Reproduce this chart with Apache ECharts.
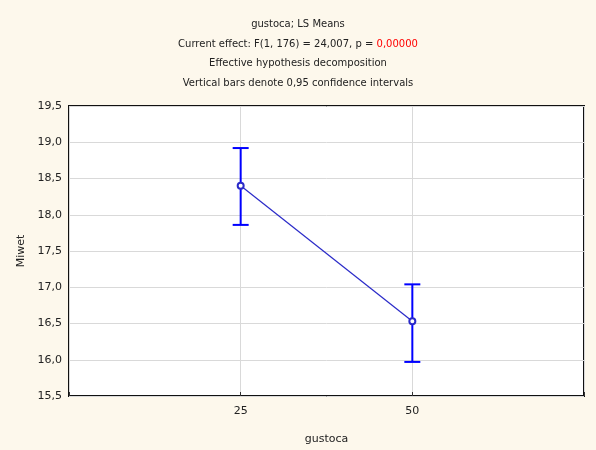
<!DOCTYPE html>
<html>
<head>
<meta charset="utf-8">
<script src="https://cdn.jsdelivr.net/npm/echarts@6/dist/echarts.min.js"></script>
<style>
html,body{margin:0;padding:0;background:#fdf8ec;}
#c{width:596px;height:450px;}
</style>
</head>
<body>
<div id="c"></div>
<script>
var categories = ['25', '50'];
var means = [18.40, 16.53];
var lower = [17.86, 15.97];
var upper = [18.92, 17.04];
var yTicks = [15.5, 16.0, 16.5, 17.0, 17.5, 18.0, 18.5, 19.0, 19.5];
var titleLines = [
  'gustoca; LS Means',
  'Current effect: F(1, 176) = 24,007, p = ',
  '0,00000',
  'Effective hypothesis decomposition',
  'Vertical bars denote 0,95 confidence intervals'
];
var xName = 'gustoca';
var yName = 'Miwet';

var FONT = 'DejaVu Sans, Verdana, sans-serif';
var chart = echarts.init(document.getElementById('c'), null, {renderer: 'canvas'});

var meanData = means.map(function (m, i) { return [i + 1, m]; });
var errData = means.map(function (m, i) { return [i + 1, lower[i], upper[i]]; });

function fmtComma(v) { return v.toFixed(1).replace('.', ','); }

var option = {
  backgroundColor: '#fdf8ec',
  animation: false,
  title: {
    left: 'center',
    top: 15,
    padding: 0,
    text: '{a|' + titleLines[0] + '}\n{a|' + titleLines[1] + '}{r|' + titleLines[2] + '}\n{a|' + titleLines[3] + '}\n{a|' + titleLines[4] + '}',
    textStyle: {
      fontFamily: FONT, fontSize: 10, fontWeight: 'normal', color: '#222', lineHeight: 19.5,
      rich: {
        a: {fontFamily: FONT, fontSize: 10, color: '#222', lineHeight: 19.5},
        r: {fontFamily: FONT, fontSize: 10, color: '#ff0000', lineHeight: 19.5}
      }
    }
  },
  grid: {
    left: 69, right: 12, top: 106, bottom: 46,
    show: true, backgroundColor: '#ffffff',
    borderColor: '#111111', borderWidth: 2,
    containLabel: false
  },
  xAxis: {
    type: 'value', min: 0, max: 3, interval: 1,
    name: xName, nameLocation: 'middle', nameGap: 38,
    nameTextStyle: {fontFamily: FONT, fontSize: 11, color: '#222'},
    axisLine: {show: false},
    axisTick: {show: true, inside: true, length: 4, lineStyle: {color: '#333'}},
    axisLabel: {
      fontFamily: FONT, fontSize: 11, color: '#222', margin: 10,
      formatter: function (v) { return categories[v - 1] || ''; }
    },
    splitLine: {show: true, lineStyle: {color: '#d9d9d9', width: 1}}
  },
  yAxis: {
    type: 'value', min: yTicks[0], max: yTicks[yTicks.length - 1], interval: 0.5,
    name: yName, nameLocation: 'middle', nameGap: 41,
    nameTextStyle: {fontFamily: FONT, fontSize: 11, color: '#222'},
    axisLine: {show: false},
    axisTick: {show: false},
    axisLabel: {fontFamily: FONT, fontSize: 11, color: '#222', margin: 7, formatter: fmtComma},
    splitLine: {show: true, lineStyle: {color: '#d9d9d9', width: 1}}
  },
  series: [
    {
      type: 'custom',
      data: errData,
      z: 3,
      renderItem: function (params, api) {
        var x = api.value(0);
        var lo = api.coord([x, api.value(1)]);
        var hi = api.coord([x, api.value(2)]);
        var hw = 8;
        var st = {stroke: '#0000ff', lineWidth: 2};
        return {
          type: 'group',
          children: [
            {type: 'line', shape: {x1: lo[0], y1: lo[1], x2: hi[0], y2: hi[1]}, style: st},
            {type: 'line', shape: {x1: lo[0] - hw, y1: lo[1], x2: lo[0] + hw, y2: lo[1]}, style: st},
            {type: 'line', shape: {x1: hi[0] - hw, y1: hi[1], x2: hi[0] + hw, y2: hi[1]}, style: st}
          ]
        };
      }
    },
    {
      type: 'line',
      data: meanData,
      z: 4,
      symbol: 'emptyCircle',
      symbolSize: 6,
      lineStyle: {color: '#2a2ac8', width: 1.2},
      itemStyle: {color: '#2a2ac8', borderColor: '#2a2ac8', borderWidth: 1.2}
    }
  ]
};
chart.setOption(option);
</script>
</body>
</html>
